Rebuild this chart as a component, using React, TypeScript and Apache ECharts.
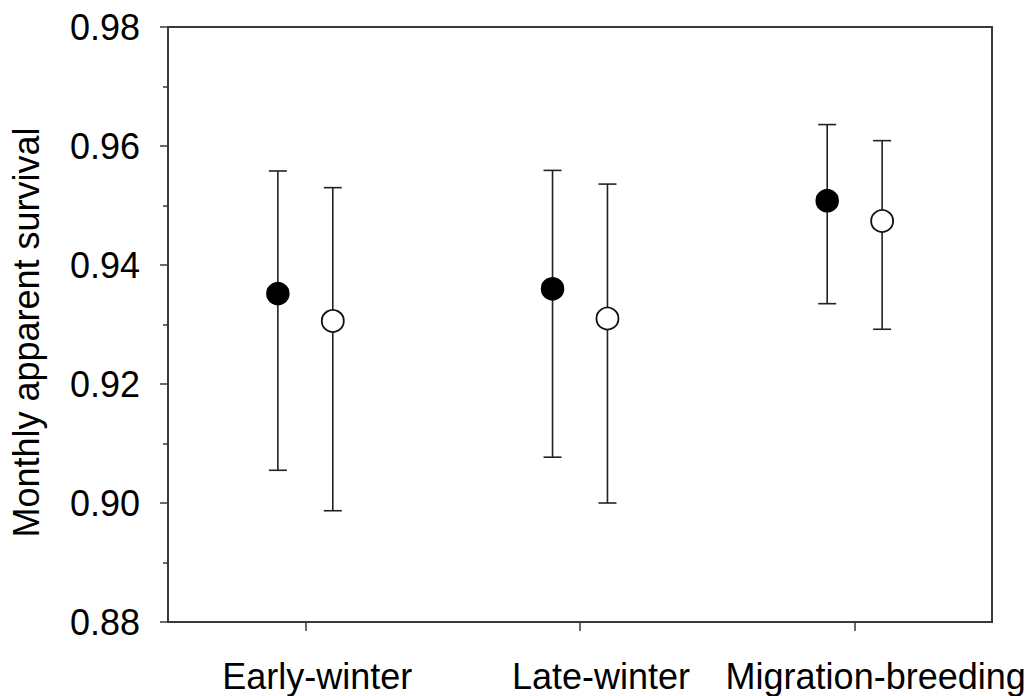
import React, { useEffect, useRef } from "react";
import * as echarts from "echarts";

const categories = ["Early-winter", "Late-winter", "Migration-breeding"];
const yTickValues = [0.88, 0.9, 0.92, 0.94, 0.96, 0.98];

const filledMean = [0.9352, 0.936, 0.9508];
const filledLower = [0.9055, 0.9077, 0.9335];
const filledUpper = [0.9558, 0.9559, 0.9636];

const openMean = [0.9306, 0.931, 0.9474];
const openLower = [0.8987, 0.9, 0.9292];
const openUpper = [0.953, 0.9536, 0.9609];

// layout constants (not data)
const GROUP_OFFSET = 0.1;
const LABEL_SHIFT = [24, 42, 42];
const FONT = "'Liberation Sans', Arial, sans-serif";
const AXIS_COLOR = "#3a3a3a";

function buildPoints(mean: number[], off: number) {
  return mean.map((m, i) => [i + 1 + off, m]);
}
function buildBars(lower: number[], upper: number[], off: number) {
  return lower.map((lo, i) => [i + 1 + off, lo, upper[i]]);
}

export default function App() {
  const ref = useRef<HTMLDivElement>(null);
  useEffect(() => {
    document.body.style.margin = "0";
    const chart = echarts.init(ref.current!, null, { renderer: "svg" });
    const errRender = (params: any, api: any) => {
      const x = api.value(0);
      const lo = api.coord([x, api.value(1)]);
      const hi = api.coord([x, api.value(2)]);
      const hw = 9;
      const style = { stroke: "#222", lineWidth: 1.6 };
      return {
        type: "group",
        children: [
          { type: "line", shape: { x1: lo[0], y1: lo[1], x2: hi[0], y2: hi[1] }, style },
          { type: "line", shape: { x1: lo[0] - hw, y1: lo[1], x2: lo[0] + hw, y2: lo[1] }, style },
          { type: "line", shape: { x1: hi[0] - hw, y1: hi[1], x2: hi[0] + hw, y2: hi[1] }, style },
        ],
      };
    };
    chart.setOption({
      animation: false,
      backgroundColor: "#fff",
      grid: {
        left: 165,
        top: 27,
        right: 39,
        bottom: 74,
        show: true,
        borderColor: AXIS_COLOR,
        borderWidth: 2,
      },
      xAxis: {
        type: "value",
        min: 0.5,
        max: 3.5,
        splitLine: { show: false },
        axisLine: { show: true, lineStyle: { color: AXIS_COLOR, width: 2 } },
        axisTick: {
          show: true,
          customValues: [1, 2, 3],
          length: 9,
          lineStyle: { color: AXIS_COLOR, width: 1.5 },
        },
        axisLabel: {
          customValues: [1, 2, 3],
          margin: 36,
          formatter: (v: number) => {
            const i = Math.round(v) - 1;
            return `{l${i}|${categories[i]}}`;
          },
          rich: {
            l0: { fontSize: 36, fontFamily: FONT, color: "#000", padding: [0, 0, 0, LABEL_SHIFT[0]] },
            l1: { fontSize: 36, fontFamily: FONT, color: "#000", padding: [0, 0, 0, LABEL_SHIFT[1]] },
            l2: { fontSize: 36, fontFamily: FONT, color: "#000", padding: [0, 0, 0, LABEL_SHIFT[2]] },
          },
        },
      },
      yAxis: {
        type: "value",
        min: 0.88,
        max: 0.98,
        interval: 0.02,
        name: "Monthly apparent survival",
        nameLocation: "middle",
        nameGap: 124,
        nameTextStyle: { fontSize: 36, fontFamily: FONT, color: "#000", padding: [0, 16, 0, 0] },
        splitLine: { show: false },
        axisLine: { show: true, lineStyle: { color: AXIS_COLOR, width: 2 } },
        axisTick: { show: true, length: 8, lineStyle: { color: AXIS_COLOR, width: 1.5 } },
        minorTick: { show: true, splitNumber: 2, length: 5, lineStyle: { color: AXIS_COLOR, width: 1.5 } },
        minorSplitLine: { show: false },
        axisLabel: {
          margin: 28,
          fontSize: 36,
          fontFamily: FONT,
          color: "#000",
          formatter: (v: number) => v.toFixed(2),
          customValues: yTickValues,
        },
      },
      series: [
        {
          type: "custom",
          renderItem: errRender,
          data: buildBars(filledLower, filledUpper, -GROUP_OFFSET),
          z: 1,
          silent: true,
        },
        {
          type: "custom",
          renderItem: errRender,
          data: buildBars(openLower, openUpper, GROUP_OFFSET),
          z: 1,
          silent: true,
        },
        {
          type: "scatter",
          data: buildPoints(filledMean, -GROUP_OFFSET),
          symbol: "circle",
          symbolSize: 22,
          itemStyle: { color: "#000", borderColor: "#000", borderWidth: 1.5, opacity: 1 },
          z: 3,
        },
        {
          type: "scatter",
          data: buildPoints(openMean, GROUP_OFFSET),
          symbol: "circle",
          symbolSize: 22,
          itemStyle: { color: "#fff", borderColor: "#111", borderWidth: 1.8, opacity: 1 },
          z: 3,
        },
      ],
    });
    return () => chart.dispose();
  }, []);
  return <div ref={ref} style={{ width: 1031, height: 696 }} />;
}
